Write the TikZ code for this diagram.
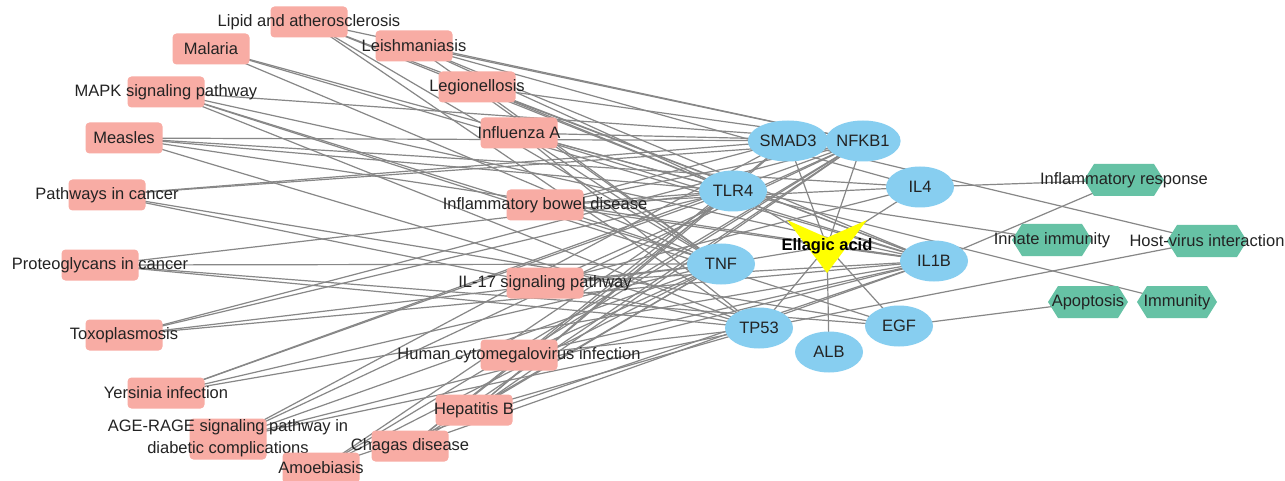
\documentclass[tikz,border=0pt]{standalone}
\usepackage{fontspec}
\setmainfont{Liberation Sans}
\usetikzlibrary{shapes.geometric}
\pgfdeclarelayer{bglayer}
\pgfdeclarelayer{edgelayer}
\pgfdeclarelayer{shapelayer}
\pgfsetlayers{bglayer,edgelayer,shapelayer,main}
\definecolor{pinkbox}{RGB}{248,172,164}
\definecolor{bluegene}{RGB}{135,206,240}
\definecolor{greenfn}{RGB}{102,194,165}
\definecolor{edgegray}{RGB}{135,135,135}
\definecolor{yellowv}{RGB}{255,255,0}
\definecolor{txt}{RGB}{35,35,35}
\begin{document}
\begin{tikzpicture}[x=1pt,y=-1pt,
 every node/.style={font=\fontsize{16.5}{19}\selectfont, text=txt},
 pathbox/.style={rectangle, rounded corners=4pt, fill=pinkbox, minimum width=77pt, minimum height=31pt, inner sep=0pt},
 genenode/.style={ellipse, fill=bluegene, minimum width=68pt, minimum height=41pt, inner sep=0pt},
 fnnode/.style={rectangle, minimum width=80pt, minimum height=32pt, inner sep=0pt,
   path picture={\fill[greenfn] (path picture bounding box.west) -- ([xshift=10pt]path picture bounding box.north west) -- ([xshift=-10pt]path picture bounding box.north east) -- (path picture bounding box.east) -- ([xshift=-10pt]path picture bounding box.south east) -- ([xshift=10pt]path picture bounding box.south west) -- cycle;}},
 link/.style={draw=edgegray, line width=1.2pt},
 drugnode/.style={inner sep=0pt, font=\fontsize{16.5}{19}\selectfont\bfseries, text=black}]
\useasboundingbox (0,0) rectangle (1285,481);
\begin{pgfonlayer}{bglayer}
\fill[white] (0,0) rectangle (1285,481);
\end{pgfonlayer}

% pathway nodes
\node[pathbox] (lipid) at (309,22) {\makebox[0pt]{Lipid and atherosclerosis}};
\node[pathbox] (malaria) at (211,49) {\makebox[0pt]{Malaria}};
\node[pathbox] (leish) at (414,46) {\makebox[0pt]{Leishmaniasis}};
\node[pathbox] (mapk) at (166,92) {\makebox[0pt]{MAPK signaling pathway}};
\node[pathbox] (legion) at (477,87) {\makebox[0pt]{Legionellosis}};
\node[pathbox] (measles) at (124,138) {\makebox[0pt]{Measles}};
\node[pathbox] (influ) at (519,133) {\makebox[0pt]{Influenza A}};
\node[pathbox] (pcancer) at (107,195) {\makebox[0pt]{Pathways in cancer}};
\node[pathbox] (ibd) at (545,205) {\makebox[0pt]{Inflammatory bowel disease}};
\node[pathbox] (proteo) at (100,265) {\makebox[0pt]{Proteoglycans in cancer}};
\node[pathbox] (ilseventeen) at (545,283) {\makebox[0pt]{IL-17 signaling pathway}};
\node[pathbox] (toxo) at (124,335) {\makebox[0pt]{Toxoplasmosis}};
\node[pathbox] (hcmv) at (519,355) {\makebox[0pt]{Human cytomegalovirus infection}};
\node[pathbox] (yersinia) at (166,393) {\makebox[0pt]{Yersinia infection}};
\node[pathbox] (hepb) at (474,410) {\makebox[0pt]{Hepatitis B}};
\node[pathbox] (agerage) at (228,439) {\makebox[0pt]{\begin{tabular}{@{}c@{}}AGE-RAGE signaling pathway in\\[3pt]diabetic complications\end{tabular}}};
\node[pathbox] (chagas) at (410,446) {\makebox[0pt]{Chagas disease}};
\node[pathbox] (amoeb) at (321,468) {\makebox[0pt]{Amoebiasis}};

% gene nodes
\node[genenode] (smad) at (788,141) {SMAD3};
\node[genenode] (nfkb) at (863,141) {NFKB1};
\node[genenode] (tlr) at (733,191) {TLR4};
\node[genenode] (ilfour) at (920,187) {IL4};
\node[genenode] (ilb) at (934,261) {IL1B};
\node[genenode] (tnf) at (721,264) {TNF};
\node[genenode] (tp) at (759,328) {TP53};
\node[genenode] (egf) at (899,326) {EGF};
\node[genenode] (alb) at (829,352) {ALB};

% drug
\node[drugnode] (ellagic) at (827,246.5) {Ellagic acid};
\begin{pgfonlayer}{shapelayer}
\fill[yellowv] ([shift={(-40,-26.5)}]ellagic.center) -- ([shift={(0,-8.8)}]ellagic.center) -- ([shift={(40,-26.5)}]ellagic.center) -- ([shift={(0,26.5)}]ellagic.center) -- cycle;
\end{pgfonlayer}

% function nodes
\node[fnnode] (inflresp) at (1124,180) {\makebox[0pt]{Inflammatory response}};
\node[fnnode] (innate) at (1052,240) {\makebox[0pt]{Innate immunity}};
\node[fnnode] (hostvirus) at (1207,241) {\makebox[0pt]{Host-virus interaction}};
\node[fnnode] (apoptosis) at (1088,302) {\makebox[0pt]{Apoptosis}};
\node[fnnode] (immunity) at (1177,302) {\makebox[0pt]{Immunity}};

\begin{pgfonlayer}{edgelayer}
\foreach \a/\b in {
 lipid/tlr, lipid/nfkb, lipid/ilb, lipid/tnf, lipid/tp,
 malaria/tlr, malaria/ilb, malaria/tnf,
 leish/nfkb, leish/tlr, leish/ilb, leish/tnf, leish/ilfour,
 mapk/tnf, mapk/ilb, mapk/egf, mapk/tp, mapk/nfkb,
 legion/tlr, legion/nfkb, legion/ilb, legion/tnf,
 measles/nfkb, measles/tlr, measles/ilb, measles/tp, measles/ilfour,
 influ/tlr, influ/nfkb, influ/ilb, influ/tnf, influ/tp,
 pcancer/smad, pcancer/nfkb, pcancer/tp, pcancer/egf,
 ibd/ilfour, ibd/ilb, ibd/tnf, ibd/tlr, ibd/nfkb, ibd/smad,
 proteo/tlr, proteo/tnf, proteo/tp, proteo/egf,
 ilseventeen/ilfour, ilseventeen/ilb, ilseventeen/tnf, ilseventeen/nfkb,
 toxo/tlr, toxo/nfkb, toxo/tnf, toxo/ilb,
 hcmv/tnf, hcmv/tp, hcmv/nfkb, hcmv/ilb,
 yersinia/tlr, yersinia/nfkb, yersinia/tnf, yersinia/ilb,
 hepb/tlr, hepb/nfkb, hepb/tp, hepb/tnf, hepb/smad,
 agerage/smad, agerage/nfkb, agerage/tnf, agerage/ilb, agerage/tp,
 chagas/tlr, chagas/nfkb, chagas/ilb, chagas/tnf, chagas/smad,
 amoeb/tlr, amoeb/nfkb, amoeb/ilb, amoeb/tnf,
 ellagic/smad, ellagic/nfkb, ellagic/tlr, ellagic/ilfour, ellagic/ilb,
 ellagic/tnf, ellagic/tp, ellagic/egf, ellagic/alb,
 ilfour/inflresp, ilb/inflresp, smad/hostvirus, tp/hostvirus,
 tlr/immunity, tlr/innate, egf/apoptosis}
 \draw[link] (\a.center) -- (\b.center);
\end{pgfonlayer}
\end{tikzpicture}
\end{document}
